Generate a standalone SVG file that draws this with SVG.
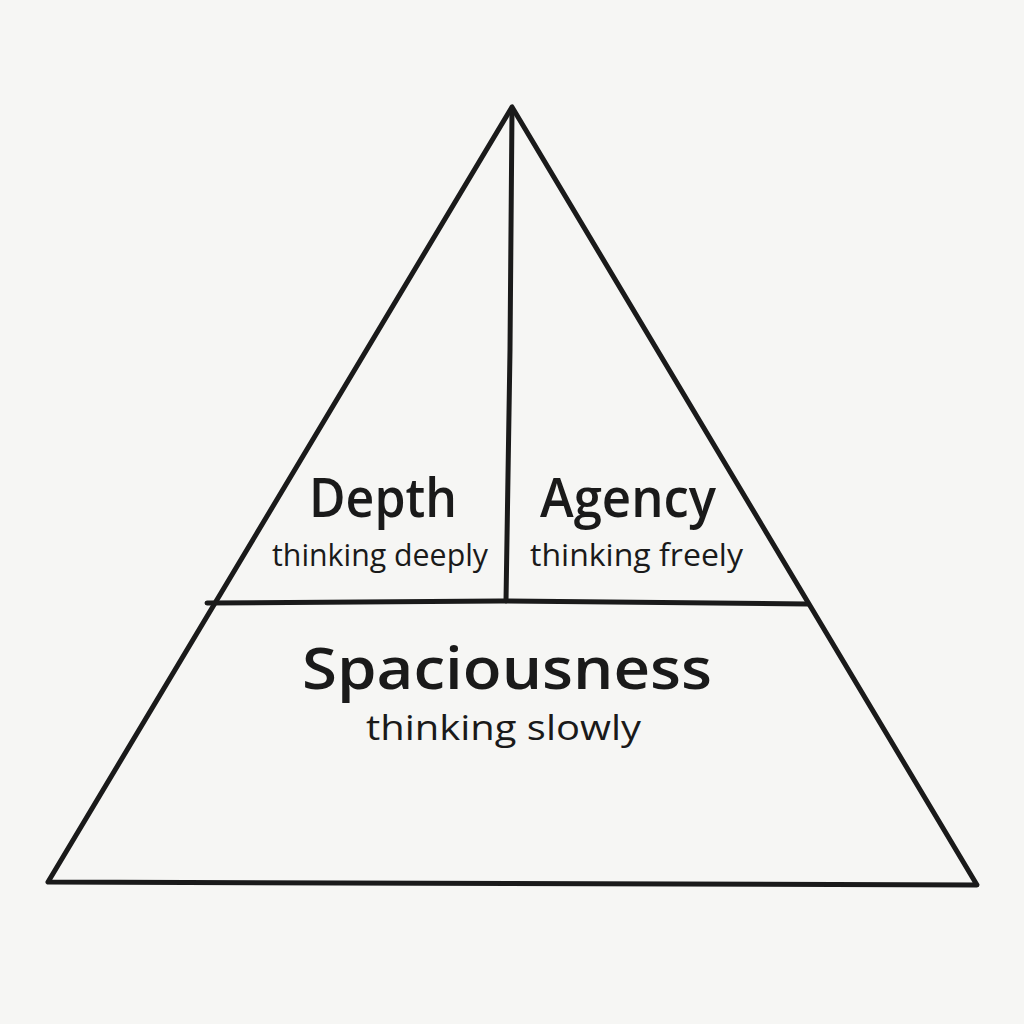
<svg xmlns="http://www.w3.org/2000/svg" width="1024" height="1024" viewBox="0 0 1024 1024">
<style>
.ln{fill:none;stroke:#1a1a1a;stroke-width:5;stroke-linecap:round;stroke-linejoin:round}
.t{font-family:"Open Sans","Noto Sans",sans-serif;fill:#1a1a1a;text-anchor:start}
.h{font-size:54px;font-weight:600}
.s{font-size:31px;font-weight:500}
</style>
<rect width="1024" height="1024" fill="#f6f6f4"/>
<g id="connectors">
<path class="ln" d="M512,107 L48,882 L977,885 Z"/>
<path class="ln" d="M512,110 L510,350 L506,601"/>
<path class="ln" d="M207,603 L500,601 L808,604"/>
</g>
<g id="depth">
<text class="t h" x="309" y="517" textLength="148" lengthAdjust="spacingAndGlyphs">Depth</text>
<text class="t s" x="272" y="566" textLength="216" lengthAdjust="spacingAndGlyphs">thinking deeply</text>
</g>
<g id="agency">
<text class="t h" x="540" y="517" textLength="176" lengthAdjust="spacingAndGlyphs">Agency</text>
<text class="t s" x="530" y="566" textLength="213" lengthAdjust="spacingAndGlyphs">thinking freely</text>
</g>
<g id="spaciousness">
<text class="t h" x="302" y="689" textLength="410" lengthAdjust="spacingAndGlyphs" style="font-size:58px">Spaciousness</text>
<text class="t s" x="366" y="740" textLength="275" lengthAdjust="spacingAndGlyphs" style="font-size:34px">thinking slowly</text>
</g>
</svg>
